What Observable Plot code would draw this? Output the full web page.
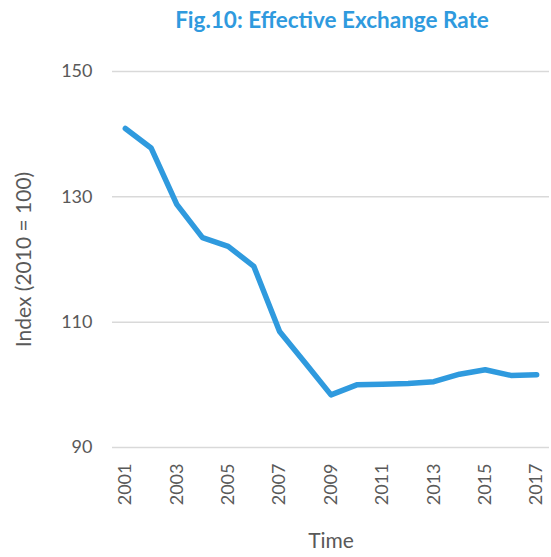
<!DOCTYPE html>
<html>
<head>
<meta charset="utf-8">
<script src="https://cdn.jsdelivr.net/npm/d3@7"></script>
<script src="https://cdn.jsdelivr.net/npm/@observablehq/plot@0.6"></script>
<style>
  body { margin: 0; background: #fff; }
  #title {
    width: 551px; height: 40px; box-sizing: border-box;
    padding-left: 113px; text-align: center;
    font: bold 22.5px Lato, "Open Sans", sans-serif; line-height: 40px;
    color: #2f9ade;
  }
</style>
</head>
<body>
<div id="title">Fig.10: Effective Exchange Rate</div>
<div id="chart"></div>
<script>
// Effective exchange rate index, 2010 = 100
const years = [2001, 2002, 2003, 2004, 2005, 2006, 2007, 2008, 2009,
               2010, 2011, 2012, 2013, 2014, 2015, 2016, 2017];
const index = [140.9, 137.8, 128.8, 123.5, 122.1, 118.9, 108.5, 103.5, 98.4,
               100.0, 100.1, 100.2, 100.5, 101.7, 102.4, 101.5, 101.6];
const xTicks = [2001, 2003, 2005, 2007, 2009, 2011, 2013, 2015, 2017];
const yTicks = [90, 110, 130, 150];
const yLabel = "Index (2010 = 100)";
const xLabel = "Time";

const data = years.map((year, i) => ({year, value: index[i]}));

const chart = Plot.plot({
  width: 551,
  height: 517,
  marginTop: 31,
  marginBottom: 110,
  marginLeft: 112,
  marginRight: 2,
  style: {fontFamily: "Lato, 'Open Sans', sans-serif", fontSize: "18px", color: "#595959"},
  x: {domain: [2000.5, 2017.5]},
  y: {domain: [90, 150]},
  marks: [
    Plot.gridY(yTicks, {stroke: "#d9d9d9", strokeOpacity: 1, strokeWidth: 1.5}),
    Plot.axisY(yTicks, {tickSize: 0, tickPadding: 20, fill: "#595959", fontSize: 18, label: null}),
    Plot.axisX(xTicks, {
      tickSize: 0, tickPadding: 16, tickRotate: -90, tickFormat: d => String(d),
      fill: "#595959", fontSize: 18, label: null
    }),
    // axis titles
    Plot.text([yLabel], {
      frameAnchor: "left", rotate: -90, dx: -88, textAnchor: "middle", lineAnchor: "middle",
      fontSize: 21, fill: "#595959"
    }),
    Plot.text([xLabel], {
      frameAnchor: "bottom", dy: 94, textAnchor: "middle", lineAnchor: "middle",
      fontSize: 21, fill: "#595959"
    }),
    Plot.line(data, {
      x: "year", y: "value",
      stroke: "#2f9ade", strokeWidth: 5.5,
      strokeLinejoin: "round", strokeLinecap: "round"
    })
  ]
});
document.getElementById("chart").appendChild(chart);
</script>
</body>
</html>
